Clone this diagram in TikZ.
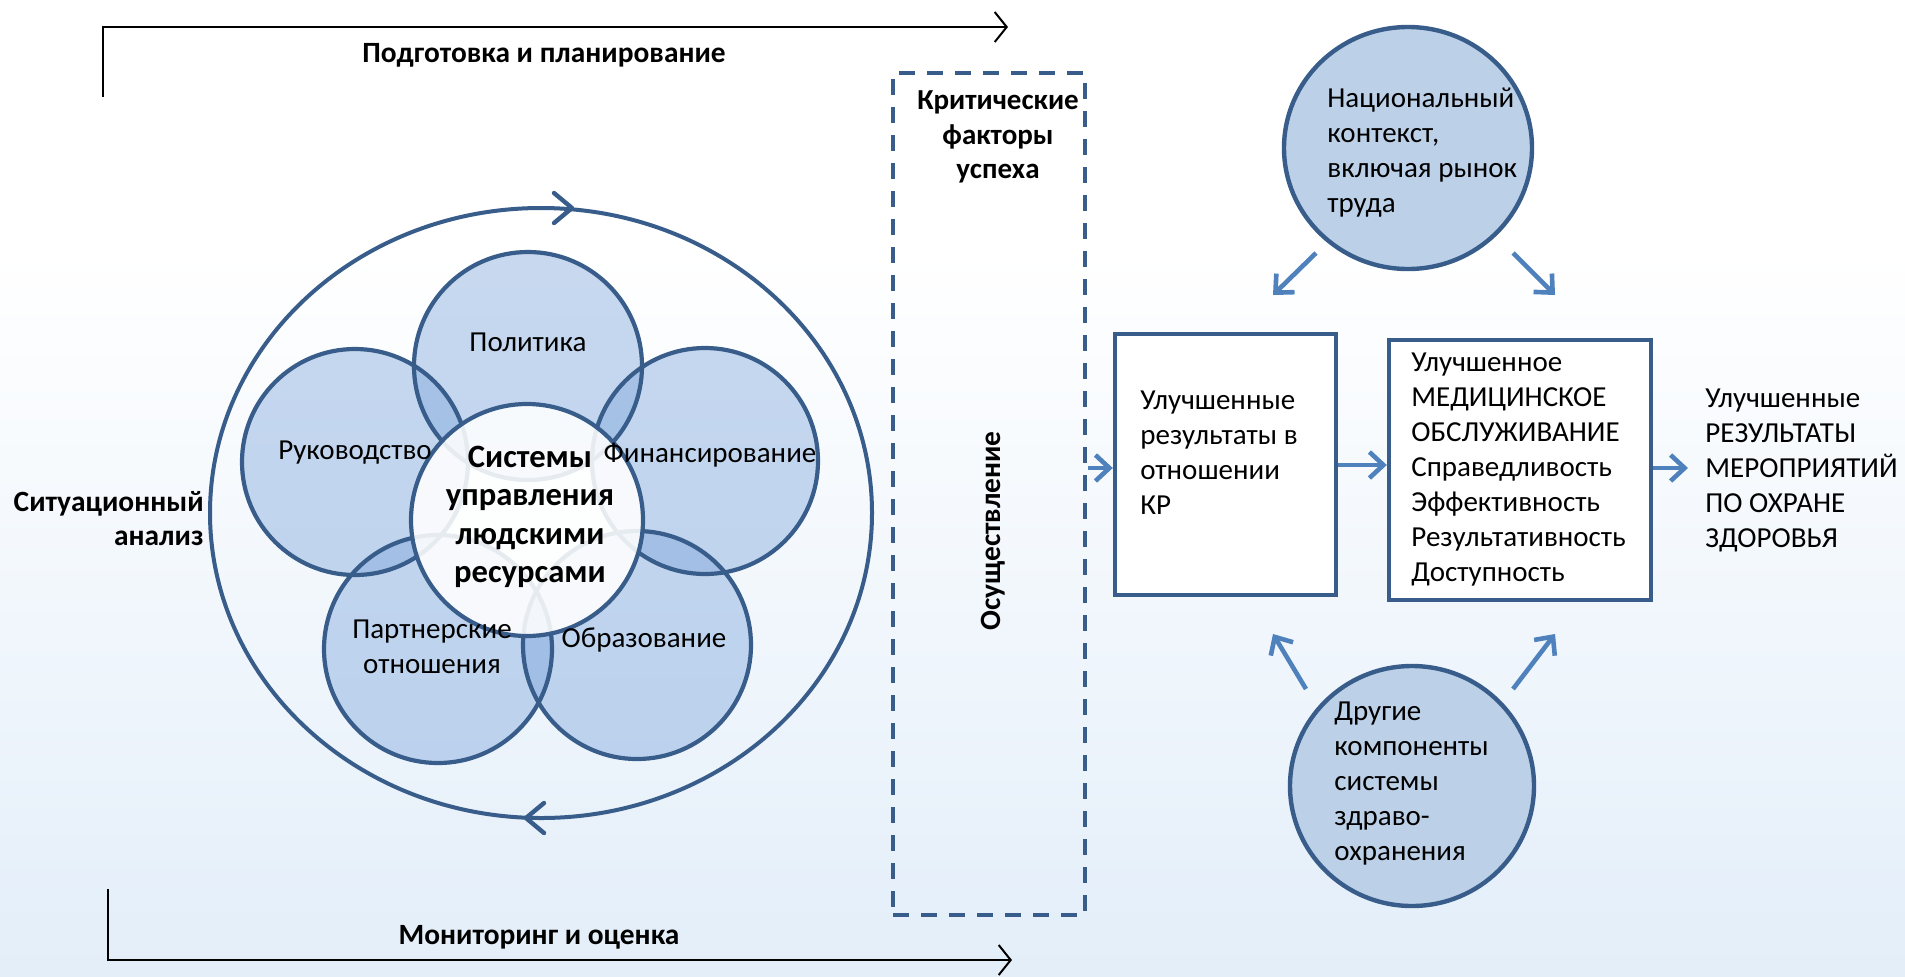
\documentclass[tikz,border=0pt]{standalone}
\usepackage{fontspec}
\setmainfont{Carlito}
\usetikzlibrary{arrows.meta,shapes.geometric}
\definecolor{dblue}{HTML}{385D8A}
\definecolor{ablue}{HTML}{4F81BD}
\definecolor{pfill}{RGB}{123,164,219}
\definecolor{efill}{RGB}{188,208,232}
\definecolor{bgblue}{HTML}{E3EEF9}
\tikzset{
  blk/.style={draw=black,line width=1pt,-{Straight Barb[length=6pt,width=15pt,line width=1pt]}},
  barrow/.style={draw=ablue,line width=2.3pt,-{Straight Barb[length=7pt,width=13pt,line width=2.3pt]}},
  ttl/.style={font=\fontsize{14.7}{17}\selectfont\bfseries,inner sep=0pt},
  txt/.style={font=\fontsize{14.5}{17.5}\selectfont,inner sep=0pt,align=left},
  ptxt/.style={font=\fontsize{14.5}{17.5}\selectfont,inner sep=0pt,align=center},
  petal/.style={circle,draw=dblue,line width=2.1pt,minimum size=#1,inner sep=0pt},
  box/.style={rectangle,draw=dblue,line width=2.2pt,fill=white,inner sep=0pt},
  oval/.style={ellipse,draw=dblue,line width=2.2pt,fill=efill,inner sep=0pt},
  chev/.style={dblue,line width=2.2pt,line cap=round,line join=round},
}
\begin{document}
\begin{tikzpicture}[x=0.5pt,y=-0.5pt]
\useasboundingbox (0,0) rectangle (1905,976);
\fill[white] (0,0) rectangle (1905,251);
\shade[top color=white,bottom color=bgblue] (0,250) rectangle (1905,976);

% process arrows
\coordinate (tp0) at (103,97);
\coordinate (tp1) at (103,27);
\coordinate (tp2) at (1008,27);
\draw[blk] (tp0) -- (tp1) -- (tp2);
\node[ttl] (prep) at (544,55) {Подготовка и планирование};
\coordinate (bt0) at (108,889);
\coordinate (bt1) at (108,960);
\coordinate (bt2) at (1012,960);
\draw[blk] (bt0) -- (bt1) -- (bt2);
\node[ttl] (mon) at (539,937) {Мониторинг и оценка};
\node[ttl,align=right,anchor=east] (sit) at (204,519) {Ситуационный\\анализ};

% outer cycle
\node[ellipse,draw=dblue,line width=2pt,minimum width=331pt,minimum height=305pt,inner sep=0pt] (cyc) at (541,513) {};
\coordinate (ctop) at (572,208);
\coordinate (cbot) at (526,818);
\draw[chev] ([shift={(-18,-15)}]ctop) -- (ctop) -- ([shift={(-18,15)}]ctop);
\draw[chev] ([shift={(18,-15)}]cbot) -- (cbot) -- ([shift={(18,15)}]cbot);

% petals
\coordinate (cpol) at (528,366);
\coordinate (cruk) at (355,462);
\coordinate (cfin) at (705,461);
\coordinate (cpar) at (438,649);
\coordinate (cobr) at (637,645);
\coordinate (ccen) at (527,520);
\foreach \c in {cpol,cruk,cfin,cpar,cobr}
  \fill[pfill,fill opacity=0.42] (\c) circle [radius=57pt];
\node[petal=114pt] (pol) at (cpol) {};
\node[petal=113pt] (ruk) at (cruk) {};
\node[petal=113pt] (fin) at (cfin) {};
\node[petal=114pt] (par) at (cpar) {};
\node[petal=114pt] (obr) at (cobr) {};
\fill[white,fill opacity=0.88] (ccen) circle [radius=58pt];
\node[petal=116pt] (cen) at (ccen) {};

\node[ptxt] (tpol) at (528,342) {Политика};
\node[ptxt] (truk) at (355,453) {Руководство};
\node[ptxt] (tfin) at (710,455) {Финансирование};
\node[ptxt] (tpar) at (432,647) {Партнерские\\отношения};
\node[ptxt] (tobr) at (644,640) {Образование};
\node[font=\fontsize{16.3}{19.2}\selectfont\bfseries,align=center,inner sep=0pt] (tcen) at (530,517) {Системы\\управления\\людскими\\ресурсами};

% dashed box
\node[rectangle,draw=dblue,line width=2.2pt,dash pattern=on 8pt off 6pt,minimum width=96pt,minimum height=421pt,inner sep=0pt] (csf) at (989,494) {};
\node[ttl,align=center,font=\fontsize{14.5}{17.3}\selectfont\bfseries] (tcsf) at (998,137) {Критические\\факторы\\успеха};
\node[ttl,rotate=90] (impl) at (993,531) {Осуществление};

% right part
\node[box,minimum width=110.5pt,minimum height=130.5pt] (b1) at (1225.5,464.5) {};
\node[txt,anchor=west] (tb1) at (1140,453) {Улучшенные\\результаты в\\отношении\\КР};
\node[box,minimum width=131pt,minimum height=130pt] (b2) at (1520,470) {};
\node[txt,anchor=west] (tb2) at (1411,470) {Улучшенное\\МЕДИЦИНСКОЕ\\ОБСЛУЖИВАНИЕ\\Справедливость\\Эффективность\\Результативность\\Доступность};
\node[txt,anchor=west] (tout) at (1705,470) {Улучшенные\\РЕЗУЛЬТАТЫ\\МЕРОПРИЯТИЙ\\ПО ОХРАНЕ\\ЗДОРОВЬЯ};

\node[oval,minimum width=124pt,minimum height=121pt] (nat) at (1408,148) {};
\node[txt,anchor=west] (tnat) at (1327,153) {Национальный\\контекст,\\включая рынок\\труда};
\node[oval,minimum width=122pt,minimum height=120pt] (oth) at (1412,786) {};
\node[txt,anchor=west] (toth) at (1334,784) {Другие\\компоненты\\системы\\здраво-\\охранения};

\coordinate (a0) at (1088,468);
\coordinate (a3) at (1688,468);
\draw[barrow] (a0) -- (b1.west |- a0);
\draw[barrow] (b1.east |- 0,465) -- (b2.west |- 0,465);
\draw[barrow] (b2.east |- a3) -- (a3);

\coordinate (n1s) at (1316,253); \coordinate (n1e) at (1273,295);
\coordinate (n2s) at (1513,253); \coordinate (n2e) at (1555,295);
\coordinate (d1s) at (1306,689); \coordinate (d1e) at (1273,634);
\coordinate (d2s) at (1513,689); \coordinate (d2e) at (1555,634);
\draw[barrow] (n1s) -- (n1e);
\draw[barrow] (n2s) -- (n2e);
\draw[barrow] (d1s) -- (d1e);
\draw[barrow] (d2s) -- (d2e);
\end{tikzpicture}
\end{document}
